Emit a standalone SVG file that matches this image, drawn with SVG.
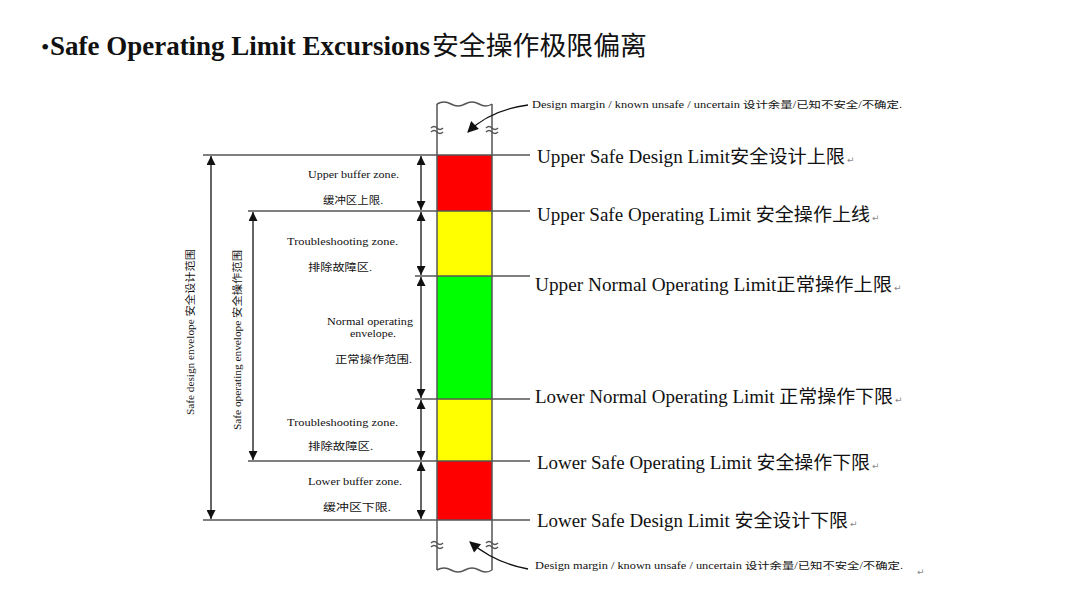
<svg xmlns="http://www.w3.org/2000/svg" width="1080" height="608" viewBox="0 0 1080 608">
<style>
.ser{font-family:"Liberation Serif","Noto Sans CJK SC",serif;fill:#111}
.big{font-size:18px}
.sm{font-size:10px}
.mk{font-family:"DejaVu Sans","Noto Sans CJK SC",sans-serif;font-size:9px;fill:#888}
.ln{stroke:#555;stroke-width:1.5;fill:none}
.col{stroke:#555;stroke-width:1.5;fill:none}
.arr{stroke:#333;stroke-width:1.5;fill:none;marker-start:url(#ah);marker-end:url(#ah)}
.cur{stroke:#111;stroke-width:1.3;fill:none;marker-end:url(#ah2)}
</style>
<defs>
<marker id="ah" viewBox="0 0 10 10" refX="10" refY="5" markerWidth="10" markerHeight="9" markerUnits="userSpaceOnUse" orient="auto-start-reverse">
<path d="M0,0 L10,5 L0,10 z" fill="#111"/>
</marker>
<marker id="ah2" viewBox="0 0 10 10" refX="9" refY="5" markerWidth="12" markerHeight="11" markerUnits="userSpaceOnUse" orient="auto">
<path d="M0,0 L10,5 L0,10 z" fill="#111"/>
</marker>
</defs>
<rect width="1080" height="608" fill="#fff"/>

<g id="title">
<text class="ser" y="55"><tspan x="41" font-size="24">•</tspan><tspan x="50" font-size="27" font-weight="bold" textLength="380" lengthAdjust="spacingAndGlyphs">Safe Operating Limit Excursions</tspan><tspan x="432" font-size="26" textLength="215" lengthAdjust="spacingAndGlyphs">安全操作极限偏离</tspan></text>
</g>

<g id="column">
<rect x="437" y="155" width="55" height="56" fill="#ff0000"/>
<rect x="437" y="211" width="55" height="65" fill="#ffff00"/>
<rect x="437" y="276" width="55" height="123" fill="#00ff00"/>
<rect x="437" y="399" width="55" height="62" fill="#ffff00"/>
<rect x="437" y="461" width="55" height="59" fill="#ff0000"/>
<path class="col" d="M437,104 V570 M492,104 V570"/>
<path class="col" d="M437,104 Q444,100 451,104 T465,104 T479,104 T492,104"/>
<path class="col" d="M437,570 Q444,566 451,570 T465,570 T479,570 T492,570"/>
<path class="col" stroke-width="1.2" d="M431,128 q3,-3 6,0 t6,0 M431,132 q3,-3 6,0 t6,0 M486,128 q3,-3 6,0 t6,0 M486,132 q3,-3 6,0 t6,0"/>
<path class="col" stroke-width="1.2" d="M431,543 q3,-3 6,0 t6,0 M431,547 q3,-3 6,0 t6,0 M486,543 q3,-3 6,0 t6,0 M486,547 q3,-3 6,0 t6,0"/>
</g>

<g id="connectors">
<line class="ln" x1="203" y1="155" x2="530" y2="155"/>
<line class="ln" x1="248" y1="211" x2="530" y2="211"/>
<line class="ln" x1="415" y1="276" x2="530" y2="276"/>
<line class="ln" x1="415" y1="399" x2="530" y2="399"/>
<line class="ln" x1="248" y1="461" x2="530" y2="461"/>
<line class="ln" x1="203" y1="520" x2="530" y2="520"/>
<line class="arr" x1="211" y1="156" x2="211" y2="519"/>
<line class="arr" x1="253" y1="212" x2="253" y2="460"/>
<line class="arr" x1="421" y1="156" x2="421" y2="210"/>
<line class="arr" x1="421" y1="212" x2="421" y2="275"/>
<line class="arr" x1="421" y1="277" x2="421" y2="398"/>
<line class="arr" x1="421" y1="400" x2="421" y2="460"/>
<line class="arr" x1="421" y1="462" x2="421" y2="519"/>
<path class="cur" d="M528,105 Q490,110 468,132"/>
<path class="cur" d="M528,569 Q495,563 470,542"/>
</g>

<g id="limit-labels">
<text class="ser big" y="163"><tspan x="537" textLength="308" lengthAdjust="spacingAndGlyphs">Upper Safe Design Limit安全设计上限</tspan><tspan class="mk" dx="2">↵</tspan></text>
<text class="ser big" y="221"><tspan x="537" textLength="333" lengthAdjust="spacingAndGlyphs">Upper Safe Operating Limit 安全操作上线</tspan><tspan class="mk" dx="2">↵</tspan></text>
<text class="ser big" y="291"><tspan x="535" textLength="357" lengthAdjust="spacingAndGlyphs">Upper Normal Operating Limit正常操作上限</tspan><tspan class="mk" dx="2">↵</tspan></text>
<text class="ser big" y="403"><tspan x="535" textLength="358" lengthAdjust="spacingAndGlyphs">Lower Normal Operating Limit 正常操作下限</tspan><tspan class="mk" dx="2">↵</tspan></text>
<text class="ser big" y="469"><tspan x="537" textLength="333" lengthAdjust="spacingAndGlyphs">Lower Safe Operating Limit 安全操作下限</tspan><tspan class="mk" dx="2">↵</tspan></text>
<text class="ser big" y="527"><tspan x="537" textLength="311" lengthAdjust="spacingAndGlyphs">Lower Safe Design Limit 安全设计下限</tspan><tspan class="mk" dx="2">↵</tspan></text>
</g>

<g id="margin-labels">
<text class="ser" font-size="9.5" y="108"><tspan x="532" textLength="370" lengthAdjust="spacingAndGlyphs">Design margin / known unsafe / uncertain 设计余量/已知不安全/不确定.</tspan></text>
<text class="ser" font-size="9.5" y="569"><tspan x="535" textLength="368" lengthAdjust="spacingAndGlyphs">Design margin / known unsafe / uncertain 设计余量/已知不安全/不确定.</tspan></text>
<text class="mk" x="917" y="575">↵</text>
</g>

<g id="zone-labels">
<text class="ser sm" x="308" y="178" textLength="91" lengthAdjust="spacingAndGlyphs">Upper buffer zone.</text>
<text class="ser sm" x="323" y="204" textLength="60" lengthAdjust="spacingAndGlyphs">缓冲区上限.</text>
<text class="ser sm" x="287" y="245" textLength="111" lengthAdjust="spacingAndGlyphs">Troubleshooting zone.</text>
<text class="ser sm" x="308" y="271" textLength="64" lengthAdjust="spacingAndGlyphs">排除故障区.</text>
<text class="ser sm" x="327" y="325" textLength="86" lengthAdjust="spacingAndGlyphs">Normal operating</text>
<text class="ser sm" x="350" y="337" textLength="46" lengthAdjust="spacingAndGlyphs">envelope.</text>
<text class="ser sm" x="335" y="363" textLength="77" lengthAdjust="spacingAndGlyphs">正常操作范围.</text>
<text class="ser sm" x="287" y="426" textLength="111" lengthAdjust="spacingAndGlyphs">Troubleshooting zone.</text>
<text class="ser sm" x="308" y="450" textLength="65" lengthAdjust="spacingAndGlyphs">排除故障区.</text>
<text class="ser sm" x="308" y="485" textLength="94" lengthAdjust="spacingAndGlyphs">Lower buffer zone.</text>
<text class="ser sm" x="323" y="511" textLength="68" lengthAdjust="spacingAndGlyphs">缓冲区下限.</text>
</g>

<g id="envelope-labels">
<text class="ser sm" transform="translate(193.5,415) rotate(-90)" x="0" y="0" textLength="166" lengthAdjust="spacingAndGlyphs">Safe design envelope 安全设计范围</text>
<text class="ser sm" transform="translate(240.5,430) rotate(-90)" x="0" y="0" textLength="180" lengthAdjust="spacingAndGlyphs">Safe operating envelope 安全操作范围</text>
</g>
</svg>
